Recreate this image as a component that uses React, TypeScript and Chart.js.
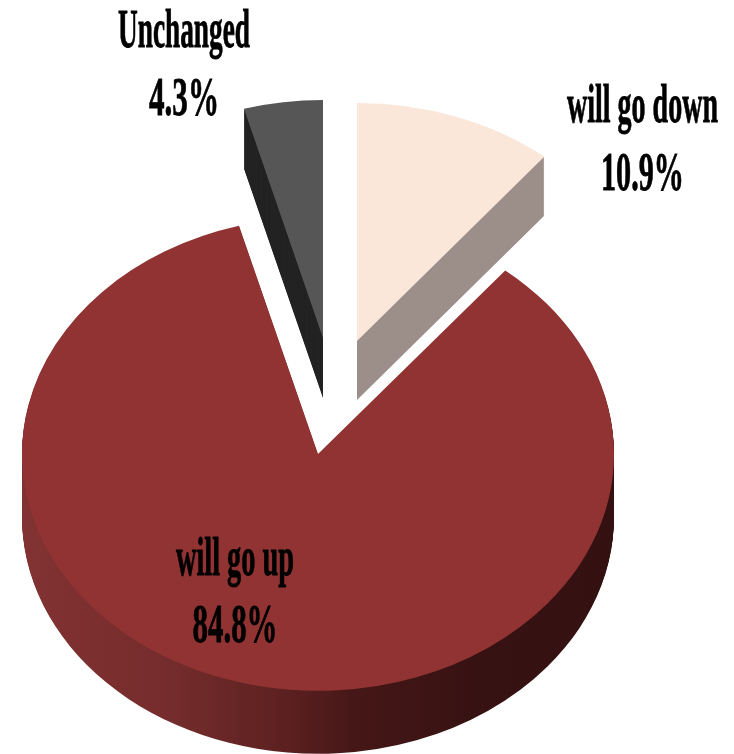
import { useEffect, useRef } from "react";
import { Chart, registerables } from "chart.js";

Chart.register(...registerables);

const categories = ["will go down", "will go up", "Unchanged"];
const shares = [10.9, 84.8, 4.3];

const topColors = ["#fbe6da", "#913333", "#565656"];
const sideColors = ["#9c8f8a", null, "#232323"];

// Slices are painted back to front, each lifted away from the pie's centre.
const paintOrder = [2, 0, 1];
const explode = [
  { x: 39, y: -113, tilt: 0.804, depth: 59 },
  { x: 0, y: 0, tilt: 0.8, depth: 63 },
  { x: 5, y: -116, tilt: 0.804, depth: 60 },
];

// Label text stays condensed and tall, as a squeezed bold serif.
const labelStyle = [
  { x: 642.5, nameY: 122, valueY: 190, nameW: 151, valueW: 83 },
  { x: 235, nameY: 575, valueY: 642, nameW: 118, valueW: 85 },
  { x: 184, nameY: 47, valueY: 115, nameW: 132, valueW: 70 },
];

const pie3d = {
  id: "pie3d",
  beforeDatasetsDraw(chart: any) {
    const { ctx } = chart;
    const arcs = chart.getDatasetMeta(0).data;

    const sideFill = ctx.createLinearGradient(22, 0, 614, 0);
    sideFill.addColorStop(0, "#823232");
    sideFill.addColorStop(0.25, "#752c2c");
    sideFill.addColorStop(0.45, "#5c2020");
    sideFill.addColorStop(0.56, "#461717");
    sideFill.addColorStop(0.75, "#381212");
    sideFill.addColorStop(1, "#341111");

    const paint = (arc: any, fill: any, dx: number, dy: number, tilt: number) => {
      const layer = Object.create(arc);
      layer.options = { ...arc.options, backgroundColor: fill, borderWidth: 0, offset: 0 };
      ctx.save();
      ctx.translate(dx + arc.x, dy + arc.y);
      ctx.scale(1, tilt);
      ctx.translate(-arc.x, -arc.y);
      layer.draw(ctx);
      ctx.restore();
    };

    paintOrder.forEach((i) => {
      const arc = arcs[i];
      const e = explode[i];
      for (let d = e.depth; d > 0; d--) {
        paint(arc, sideColors[i] ?? sideFill, e.x, e.y + d, e.tilt);
      }
      paint(arc, topColors[i], e.x, e.y, e.tilt);
    });
    return false;
  },
  afterDraw(chart: any) {
    const { ctx } = chart;
    ctx.save();
    ctx.fillStyle = "#000";
    ctx.strokeStyle = "#000";
    ctx.lineWidth = 0.8;
    ctx.textAlign = "center";
    ctx.textBaseline = "alphabetic";
    ctx.font = 'bold 54px "Liberation Serif", serif';
    const put = (text: string, x: number, y: number, w: number) => {
      ctx.fillText(text, x, y, w);
      ctx.strokeText(text, x, y, w);
    };
    categories.forEach((name, i) => {
      const s = labelStyle[i];
      put(name, s.x, s.nameY, s.nameW);
      put(`${shares[i]}%`, s.x, s.valueY, s.valueW);
    });
    ctx.restore();
  },
};

export default function App() {
  const canvasRef = useRef<HTMLCanvasElement | null>(null);

  useEffect(() => {
    const chart = new Chart(canvasRef.current as HTMLCanvasElement, {
      type: "pie",
      data: {
        labels: categories,
        datasets: [
          {
            data: shares,
            backgroundColor: topColors,
            borderWidth: 0,
            radius: 296,
            clip: false,
          } as any,
        ],
      },
      options: {
        responsive: false,
        animation: false,
        rotation: 0,
        layout: { padding: { left: 0, right: 98, top: 154, bottom: 0 } },
        plugins: { legend: { display: false }, tooltip: { enabled: false } },
      },
      plugins: [pie3d],
    });
    return () => chart.destroy();
  }, []);

  return (
    <div style={{ position: "absolute", left: 0, top: 0, width: 734, height: 754, background: "#fff" }}>
      <canvas ref={canvasRef} width={734} height={754} style={{ display: "block" }} />
    </div>
  );
}
